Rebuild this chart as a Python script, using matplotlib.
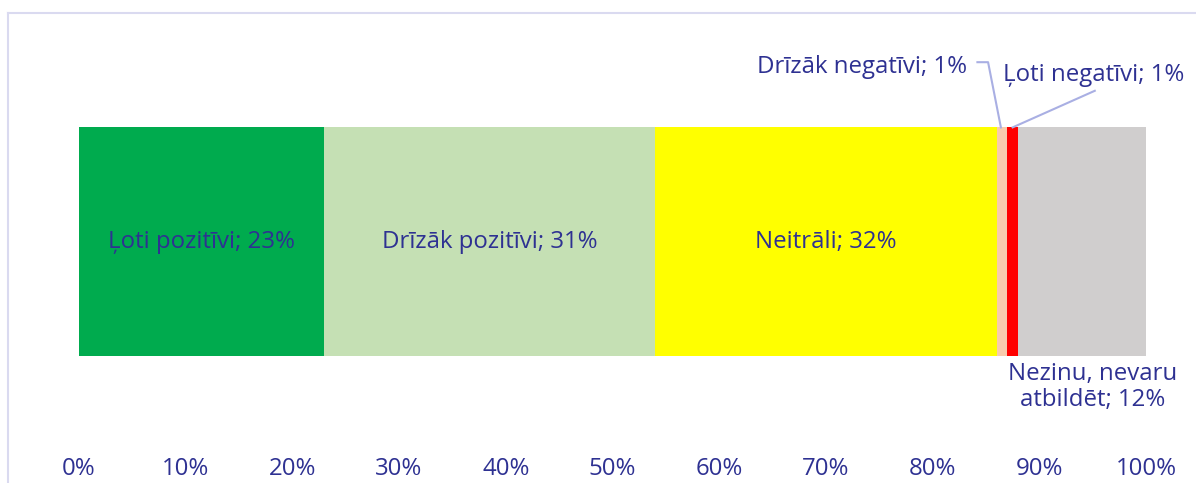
import matplotlib.pyplot as plt
from matplotlib.lines import Line2D
import numpy as np

# Dati
categories = ["Ļoti pozitīvi", "Drīzāk pozitīvi", "Neitrāli", "Drīzāk negatīvi",
              "Ļoti negatīvi", "Nezinu, nevaru\natbildēt"]
values = [23, 31, 32, 1, 1, 12]
colors = ["#00AB4E", "#C5E0B4", "#FFFF00", "#F8CBAD", "#FF0000", "#D0CECE"]
xticks = list(range(0, 101, 10))
xtick_labels = [f"{t}%" for t in xticks]

text_color = "#2E3192"
line_color = "#A9AFE3"
plt.rcParams['font.family'] = ['Open Sans', 'DejaVu Sans']
fs = 17.3

W, H = 1196, 483
fig = plt.figure(figsize=(W / 100, H / 100), dpi=100)
ax = fig.add_axes([79 / W, (H - 450) / H, (1146 - 79) / W, 437 / H])

lefts = np.concatenate([[0], np.cumsum(values)[:-1]])
ax.barh(0, values, left=lefts, height=1.0, color=colors, edgecolor="none")

ax.set_xlim(0, 100)
ax.set_ylim(-0.91, 1.0)
ax.set_xticks(xticks)
ax.set_xticklabels(xtick_labels, fontsize=fs, color=text_color)
ax.tick_params(axis="x", length=0, pad=5)
ax.set_yticks([])
for s in ax.spines.values():
    s.set_visible(False)

# Etiķetes lielajiem segmentiem
for i in range(3):
    ax.text(lefts[i] + values[i] / 2, 0, f"{categories[i]}; {values[i]}%",
            ha="center", va="center", fontsize=fs, color=text_color)

# Drīzāk negatīvi ar lauztu līniju
x3 = lefts[3] + values[3] / 2
ax.text(83.2, 0.765, f"{categories[3]}; {values[3]}%", ha="right", va="center",
        fontsize=fs, color=text_color)
ax.plot([84.2, 85.2, x3 - 0.1], [0.785, 0.785, 0.5], color=line_color, lw=1.5,
        clip_on=False)

# Ļoti negatīvi
x4 = lefts[4] + values[4] / 2
ax.text(86.6, 0.73, f"{categories[4]}; {values[4]}%", ha="left", va="center",
        fontsize=fs, color=text_color)
ax.plot([95.2, x4], [0.66, 0.5], color=line_color, lw=1.5, clip_on=False)

# Nezinu
ax.text(95.0, -0.525, f"{categories[5]}; {values[5]}%", ha="center", va="top",
        fontsize=fs, color=text_color, linespacing=1.1)

# Rāmis
fig.add_artist(Line2D([8 / W, 8 / W], [0, 1 - 13 / H], color="#DADAF0", lw=1.5))
fig.add_artist(Line2D([8 / W, 1], [1 - 13 / H, 1 - 13 / H], color="#DADAF0", lw=1.5))

fig.savefig("out.png", dpi=100)
